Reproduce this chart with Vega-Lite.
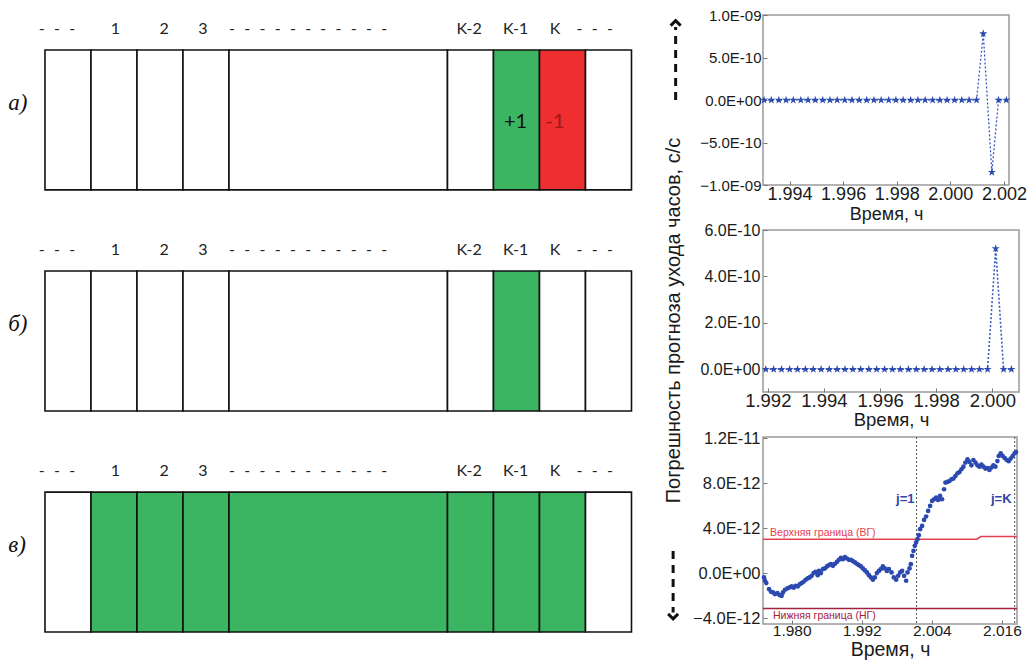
{
  "$schema": "https://vega.github.io/schema/vega-lite/v6.json",
  "padding": {"left": 0, "top": 7, "right": 0, "bottom": 0},
  "background": "white",
  "config": {
    "view": {"stroke": "#9a9a9a", "strokeWidth": 1.5},
    "axis": {"labelFont": "Liberation Sans", "titleFont": "Liberation Sans", "labelColor": "#1a1a1a", "titleColor": "#1a1a1a", "titleFontWeight": "normal", "grid": false, "domain": false, "tickColor": "#777777", "tickSize": -4}
  },
  "datasets": {
    "cells": [
      {"panel": "а)", "cell": "-\u2007-\u2007-", "x0": 0, "x1": 1, "lx": 0.26, "state": "empty", "sign": ""},
      {"panel": "а)", "cell": "1", "x0": 1, "x1": 2, "lx": 1.53, "state": "empty", "sign": ""},
      {"panel": "а)", "cell": "2", "x0": 2, "x1": 3, "lx": 2.59, "state": "empty", "sign": ""},
      {"panel": "а)", "cell": "3", "x0": 3, "x1": 4, "lx": 3.43, "state": "empty", "sign": ""},
      {"panel": "а)", "cell": "-\u2007-\u2007-\u2007-\u2007-\u2007-\u2007-\u2007-\u2007-\u2007-\u2007-", "x0": 4, "x1": 8.75, "lx": 5.72, "state": "empty", "sign": ""},
      {"panel": "а)", "cell": "K-2", "x0": 8.75, "x1": 9.75, "lx": 9.22, "state": "empty", "sign": ""},
      {"panel": "а)", "cell": "K-1", "x0": 9.75, "x1": 10.75, "lx": 10.23, "state": "plus", "sign": "+1"},
      {"panel": "а)", "cell": "K", "x0": 10.75, "x1": 11.75, "lx": 11.09, "state": "minus", "sign": "-1"},
      {"panel": "а)", "cell": "-\u2007-\u2007-", "x0": 11.75, "x1": 12.75, "lx": 11.95, "state": "empty", "sign": ""},
      {"panel": "б)", "cell": "-\u2007-\u2007-", "x0": 0, "x1": 1, "lx": 0.26, "state": "empty", "sign": ""},
      {"panel": "б)", "cell": "1", "x0": 1, "x1": 2, "lx": 1.53, "state": "empty", "sign": ""},
      {"panel": "б)", "cell": "2", "x0": 2, "x1": 3, "lx": 2.59, "state": "empty", "sign": ""},
      {"panel": "б)", "cell": "3", "x0": 3, "x1": 4, "lx": 3.43, "state": "empty", "sign": ""},
      {"panel": "б)", "cell": "-\u2007-\u2007-\u2007-\u2007-\u2007-\u2007-\u2007-\u2007-\u2007-\u2007-", "x0": 4, "x1": 8.75, "lx": 5.72, "state": "empty", "sign": ""},
      {"panel": "б)", "cell": "K-2", "x0": 8.75, "x1": 9.75, "lx": 9.22, "state": "empty", "sign": ""},
      {"panel": "б)", "cell": "K-1", "x0": 9.75, "x1": 10.75, "lx": 10.23, "state": "plus", "sign": ""},
      {"panel": "б)", "cell": "K", "x0": 10.75, "x1": 11.75, "lx": 11.09, "state": "empty", "sign": ""},
      {"panel": "б)", "cell": "-\u2007-\u2007-", "x0": 11.75, "x1": 12.75, "lx": 11.95, "state": "empty", "sign": ""},
      {"panel": "в)", "cell": "-\u2007-\u2007-", "x0": 0, "x1": 1, "lx": 0.26, "state": "empty", "sign": ""},
      {"panel": "в)", "cell": "1", "x0": 1, "x1": 2, "lx": 1.53, "state": "plus", "sign": ""},
      {"panel": "в)", "cell": "2", "x0": 2, "x1": 3, "lx": 2.59, "state": "plus", "sign": ""},
      {"panel": "в)", "cell": "3", "x0": 3, "x1": 4, "lx": 3.43, "state": "plus", "sign": ""},
      {"panel": "в)", "cell": "-\u2007-\u2007-\u2007-\u2007-\u2007-\u2007-\u2007-\u2007-\u2007-\u2007-", "x0": 4, "x1": 8.75, "lx": 5.72, "state": "plus", "sign": ""},
      {"panel": "в)", "cell": "K-2", "x0": 8.75, "x1": 9.75, "lx": 9.22, "state": "plus", "sign": ""},
      {"panel": "в)", "cell": "K-1", "x0": 9.75, "x1": 10.75, "lx": 10.23, "state": "plus", "sign": ""},
      {"panel": "в)", "cell": "K", "x0": 10.75, "x1": 11.75, "lx": 11.09, "state": "plus", "sign": ""},
      {"panel": "в)", "cell": "-\u2007-\u2007-", "x0": 11.75, "x1": 12.75, "lx": 11.95, "state": "empty", "sign": ""}
    ],
    "panels": [{"panel": "а)"}, {"panel": "б)"}, {"panel": "в)"}],
    "c1": [
      {"t": 1.99305, "v": 0}, {"t": 1.99332, "v": 0}, {"t": 1.9936, "v": 0}, {"t": 1.99387, "v": 0}, {"t": 1.99414, "v": 0},
      {"t": 1.99442, "v": 0}, {"t": 1.99469, "v": 0}, {"t": 1.99496, "v": 0}, {"t": 1.99524, "v": 0}, {"t": 1.99551, "v": 0},
      {"t": 1.99578, "v": 0}, {"t": 1.99606, "v": 0}, {"t": 1.99633, "v": 0}, {"t": 1.9966, "v": 0}, {"t": 1.99688, "v": 0},
      {"t": 1.99715, "v": 0}, {"t": 1.99742, "v": 0}, {"t": 1.9977, "v": 0}, {"t": 1.99797, "v": 0}, {"t": 1.99824, "v": 0},
      {"t": 1.99852, "v": 0}, {"t": 1.99879, "v": 0}, {"t": 1.99906, "v": 0}, {"t": 1.99934, "v": 0}, {"t": 1.99961, "v": 0},
      {"t": 1.99988, "v": 0}, {"t": 2.00016, "v": 0}, {"t": 2.00043, "v": 0}, {"t": 2.0007, "v": 0}, {"t": 2.00098, "v": 0},
      {"t": 2.00123, "v": 7.8e-10}, {"t": 2.00155, "v": -8.5e-10}, {"t": 2.0018, "v": 0}, {"t": 2.00209, "v": 0}
    ],
    "c2": [
      {"t": 1.99193, "v": 0}, {"t": 1.99221, "v": 0}, {"t": 1.99249, "v": 0}, {"t": 1.99278, "v": 0}, {"t": 1.99306, "v": 0},
      {"t": 1.99334, "v": 0}, {"t": 1.99362, "v": 0}, {"t": 1.9939, "v": 0}, {"t": 1.99419, "v": 0}, {"t": 1.99447, "v": 0},
      {"t": 1.99475, "v": 0}, {"t": 1.99503, "v": 0}, {"t": 1.99531, "v": 0}, {"t": 1.9956, "v": 0}, {"t": 1.99588, "v": 0},
      {"t": 1.99616, "v": 0}, {"t": 1.99644, "v": 0}, {"t": 1.99672, "v": 0}, {"t": 1.99701, "v": 0}, {"t": 1.99729, "v": 0},
      {"t": 1.99757, "v": 0}, {"t": 1.99785, "v": 0}, {"t": 1.99813, "v": 0}, {"t": 1.99842, "v": 0}, {"t": 1.9987, "v": 0},
      {"t": 1.99898, "v": 0}, {"t": 1.99926, "v": 0}, {"t": 1.99954, "v": 0}, {"t": 1.99983, "v": 0},
      {"t": 2.00012, "v": 5.2e-10}, {"t": 2.0004, "v": 0}, {"t": 2.00068, "v": 0}
    ],
    "c3": [
      {"t": 1.97526, "v": -0.38e-12}, {"t": 1.97543, "v": -0.68e-12}, {"t": 1.97566, "v": -0.89e-12}, {"t": 1.97612, "v": -1.42e-12},
      {"t": 1.97646, "v": -1.66e-12}, {"t": 1.9768, "v": -1.72e-12}, {"t": 1.97714, "v": -1.87e-12}, {"t": 1.97754, "v": -1.78e-12},
      {"t": 1.97795, "v": -1.96e-12}, {"t": 1.97829, "v": -2.02e-12}, {"t": 1.97851, "v": -1.72e-12}, {"t": 1.97885, "v": -1.48e-12},
      {"t": 1.97925, "v": -1.36e-12}, {"t": 1.97966, "v": -1.27e-12}, {"t": 1.98, "v": -1.18e-12}, {"t": 1.98034, "v": -1.3e-12},
      {"t": 1.98068, "v": -1.13e-12}, {"t": 1.98103, "v": -1.18e-12}, {"t": 1.98137, "v": -1.0e-12}, {"t": 1.98171, "v": -0.89e-12},
      {"t": 1.98205, "v": -0.77e-12}, {"t": 1.98239, "v": -0.59e-12}, {"t": 1.98274, "v": -0.47e-12}, {"t": 1.98308, "v": -0.38e-12},
      {"t": 1.98342, "v": -0.24e-12}, {"t": 1.98376, "v": 0.0}, {"t": 1.9841, "v": 0.12e-12}, {"t": 1.98445, "v": -0.18e-12},
      {"t": 1.98467, "v": 0.2e-12}, {"t": 1.98501, "v": 0.0}, {"t": 1.98535, "v": 0.36e-12}, {"t": 1.98569, "v": 0.42e-12},
      {"t": 1.98604, "v": 0.6e-12}, {"t": 1.98638, "v": 0.71e-12}, {"t": 1.98672, "v": 0.8e-12}, {"t": 1.98706, "v": 0.65e-12},
      {"t": 1.98741, "v": 0.83e-12}, {"t": 1.98775, "v": 1.0e-12}, {"t": 1.98809, "v": 1.18e-12}, {"t": 1.98843, "v": 1.36e-12},
      {"t": 1.98877, "v": 1.24e-12}, {"t": 1.98912, "v": 1.42e-12}, {"t": 1.98946, "v": 1.3e-12}, {"t": 1.9898, "v": 1.18e-12},
      {"t": 1.99014, "v": 1.18e-12}, {"t": 1.99048, "v": 1.07e-12}, {"t": 1.99083, "v": 0.95e-12}, {"t": 1.99117, "v": 0.83e-12},
      {"t": 1.99151, "v": 0.71e-12}, {"t": 1.99185, "v": 0.6e-12}, {"t": 1.99219, "v": 0.42e-12}, {"t": 1.99254, "v": 0.24e-12},
      {"t": 1.99288, "v": 0.06e-12}, {"t": 1.99322, "v": -0.18e-12}, {"t": 1.99356, "v": -0.38e-12}, {"t": 1.9939, "v": -0.59e-12},
      {"t": 1.99424, "v": -0.38e-12}, {"t": 1.99459, "v": 0.0}, {"t": 1.99493, "v": 0.2e-12}, {"t": 1.99527, "v": 0.36e-12},
      {"t": 1.99561, "v": 0.6e-12}, {"t": 1.99595, "v": 0.42e-12}, {"t": 1.9963, "v": 0.2e-12}, {"t": 1.99664, "v": 0.36e-12},
      {"t": 1.9971, "v": 0.06e-12}, {"t": 1.99749, "v": -0.38e-12}, {"t": 1.99789, "v": -0.59e-12}, {"t": 1.99823, "v": -0.24e-12},
      {"t": 1.99857, "v": 0.06e-12}, {"t": 1.99891, "v": 0.2e-12}, {"t": 1.99925, "v": -0.24e-12}, {"t": 1.9996, "v": -0.68e-12},
      {"t": 1.99984, "v": 0.06e-12}, {"t": 2.00018, "v": 0.42e-12}, {"t": 2.0004, "v": 0.8e-12}, {"t": 2.00062, "v": 1.54e-12},
      {"t": 2.00086, "v": 1.98e-12}, {"t": 2.00108, "v": 2.43e-12}, {"t": 2.00131, "v": 2.73e-12}, {"t": 2.00155, "v": 3.02e-12},
      {"t": 2.00177, "v": 3.38e-12}, {"t": 2.00199, "v": 3.91e-12}, {"t": 2.00233, "v": 4.2e-12}, {"t": 2.00267, "v": 4.74e-12},
      {"t": 2.00302, "v": 5.04e-12}, {"t": 2.00336, "v": 5.54e-12}, {"t": 2.0037, "v": 5.98e-12}, {"t": 2.00404, "v": 6.43e-12},
      {"t": 2.00438, "v": 6.58e-12}, {"t": 2.00473, "v": 6.73e-12}, {"t": 2.00507, "v": 6.52e-12}, {"t": 2.00541, "v": 6.87e-12},
      {"t": 2.00575, "v": 6.58e-12}, {"t": 2.00609, "v": 7.47e-12}, {"t": 2.00633, "v": 8.06e-12}, {"t": 2.00668, "v": 8.12e-12},
      {"t": 2.00702, "v": 8.2e-12}, {"t": 2.00736, "v": 8.36e-12}, {"t": 2.0077, "v": 8.42e-12}, {"t": 2.00804, "v": 8.65e-12},
      {"t": 2.00839, "v": 8.89e-12}, {"t": 2.00873, "v": 9.0e-12}, {"t": 2.00907, "v": 9.25e-12}, {"t": 2.00941, "v": 9.48e-12},
      {"t": 2.00975, "v": 9.84e-12}, {"t": 2.0101, "v": 10.13e-12}, {"t": 2.01044, "v": 9.9e-12}, {"t": 2.01078, "v": 9.6e-12},
      {"t": 2.01112, "v": 10.07e-12}, {"t": 2.01146, "v": 9.84e-12}, {"t": 2.01181, "v": 9.6e-12}, {"t": 2.01215, "v": 9.48e-12},
      {"t": 2.01249, "v": 9.66e-12}, {"t": 2.01283, "v": 9.48e-12}, {"t": 2.01317, "v": 9.31e-12}, {"t": 2.01352, "v": 9.36e-12},
      {"t": 2.01386, "v": 9.18e-12}, {"t": 2.0142, "v": 9.4e-12}, {"t": 2.01454, "v": 9.6e-12}, {"t": 2.01488, "v": 9.48e-12},
      {"t": 2.01523, "v": 9.98e-12}, {"t": 2.01545, "v": 10.43e-12}, {"t": 2.01579, "v": 10.67e-12}, {"t": 2.01613, "v": 10.43e-12},
      {"t": 2.01647, "v": 10.25e-12}, {"t": 2.01682, "v": 10.07e-12}, {"t": 2.01716, "v": 9.96e-12}, {"t": 2.0175, "v": 10.2e-12},
      {"t": 2.01784, "v": 10.43e-12}, {"t": 2.01818, "v": 10.67e-12}, {"t": 2.01841, "v": 10.78e-12}
    ],
    "bounds": [
      {"t": 1.97509, "v": 3.02e-12, "b": "upper"}, {"t": 2.0117, "v": 3.02e-12, "b": "upper"},
      {"t": 2.0124, "v": 3.26e-12, "b": "upper"}, {"t": 2.01858, "v": 3.26e-12, "b": "upper"},
      {"t": 1.97509, "v": -3.15e-12, "b": "lower"}, {"t": 2.01858, "v": -3.15e-12, "b": "lower"}
    ],
    "boundLabels": [
      {"t": 1.9763, "v": 3.55e-12, "b": "upper", "label": "Верхняя граница (ВГ)"},
      {"t": 1.9768, "v": -3.8e-12, "b": "lower", "label": "Нижняя граница (НГ)"}
    ],
    "jlines": [{"t": 2.00138, "label": "j=1", "lt": 1.99946}, {"t": 2.01818, "label": "j=K", "lt": 2.01588}]
  },
  "hconcat": [
    {
      "width": 640,
      "height": 652,
      "view": {"stroke": null},
      "layer": [
        {
          "data": {"name": "cells"},
          "mark": {"type": "rect", "stroke": "#111111", "strokeWidth": 1.6},
          "encoding": {
            "x": {"field": "x0", "type": "quantitative", "scale": {"domain": [-0.978, 12.935], "nice": false, "zero": false}, "axis": null},
            "x2": {"field": "x1"},
            "y": {"field": "panel", "type": "nominal", "scale": {"domain": ["а)", "б)", "в)"], "paddingInner": 0.3672, "paddingOuter": 0.1582}, "axis": null},
            "fill": {"field": "state", "type": "nominal", "scale": {"domain": ["empty", "plus", "minus"], "range": ["#ffffff", "#3cb563", "#ee2e2f"]}, "legend": null}
          }
        },
        {
          "data": {"name": "cells"},
          "mark": {"type": "text", "font": "Lato", "fontSize": 16, "dy": -91, "color": "#222222"},
          "encoding": {
            "x": {"field": "lx", "type": "quantitative"},
            "y": {"field": "panel", "type": "nominal"},
            "text": {"field": "cell"}
          }
        },
        {
          "data": {"name": "cells"},
          "transform": [{"filter": "datum.sign == '+1'"}],
          "mark": {"type": "text", "font": "Lato", "fontSize": 20, "dy": 2, "color": "#111111"},
          "encoding": {
            "x": {"field": "lx", "type": "quantitative"},
            "y": {"field": "panel", "type": "nominal"},
            "text": {"field": "sign"}
          }
        },
        {
          "data": {"name": "cells"},
          "transform": [{"filter": "datum.sign == '-1'"}],
          "mark": {"type": "text", "font": "Lato", "fontSize": 20, "dy": 2, "color": "#a01818"},
          "encoding": {
            "x": {"field": "lx", "type": "quantitative"},
            "y": {"field": "panel", "type": "nominal"},
            "text": {"field": "sign"}
          }
        },
        {
          "data": {"name": "panels"},
          "mark": {"type": "text", "font": "Liberation Serif", "fontStyle": "italic", "fontSize": 23, "align": "left", "dy": -17, "color": "#111111"},
          "encoding": {
            "x": {"datum": -0.8},
            "y": {"field": "panel", "type": "nominal"},
            "text": {"field": "panel"}
          }
        }
      ]
    },
    {
      "bounds": "flush",
      "spacing": 45,
      "vconcat": [
        {
          "width": 246,
          "height": 170,
          "layer": [
            {
              "data": {"name": "c1"},
              "mark": {"type": "line", "strokeDash": [2, 2], "color": "#3a5bc0", "strokeWidth": 1.3},
              "encoding": {
                "x": {"field": "t", "type": "quantitative", "title": "Время, ч",
                  "scale": {"domain": [1.99301, 2.00219], "nice": false, "zero": false},
                  "axis": {"values": [1.994, 1.996, 1.998, 2.0, 2.002], "format": ".3f", "labelFontSize": 18, "titleFontSize": 18, "labelPadding": 4, "titlePadding": 2}},
                "y": {"field": "v", "type": "quantitative", "title": null,
                  "scale": {"domain": [-1e-9, 1e-9], "nice": false, "zero": false},
                  "axis": {"values": [-1e-9, -5e-10, 0, 5e-10, 1e-9], "labelFontSize": 15, "labelPadding": 6,
                    "labelExpr": "datum.value == 0 ? '0.0E+00' : slice(format(datum.value, '.1e'), 0, indexof(format(datum.value, '.1e'), 'e')) + 'E-' + (length(slice(format(datum.value, '.1e'), indexof(format(datum.value, '.1e'), 'e') + 2)) < 2 ? '0' : '') + slice(format(datum.value, '.1e'), indexof(format(datum.value, '.1e'), 'e') + 2)"}}
              }
            },
            {
              "data": {"name": "c1"},
              "mark": {"type": "point", "shape": "M0,-1L0.224,-0.309L0.951,-0.309L0.363,0.118L0.588,0.809L0,0.382L-0.588,0.809L-0.363,0.118L-0.951,-0.309L-0.224,-0.309Z", "filled": true, "size": 75, "color": "#2c4cb0", "opacity": 1},
              "encoding": {
                "x": {"field": "t", "type": "quantitative"},
                "y": {"field": "v", "type": "quantitative"}
              }
            },
            {
              "data": {"values": [{}]},
              "mark": {"type": "rule", "strokeDash": [8, 6], "strokeWidth": 3, "color": "#111111"},
              "encoding": {"x": {"datum": 1.98975}, "y": {"datum": 0}, "y2": {"datum": 8.6e-10}}
            },
            {
              "data": {"values": [{}]},
              "mark": {"type": "point", "shape": "M-1,0.6L0,-0.4L1,0.6", "filled": false, "strokeWidth": 3, "size": 100, "color": "#111111", "opacity": 1},
              "encoding": {"x": {"datum": 1.98975}, "y": {"datum": 9.1e-10}}
            }
          ]
        },
        {
          "width": 256,
          "height": 162,
          "layer": [
            {
              "data": {"name": "c2"},
              "mark": {"type": "line", "strokeDash": [2, 2], "color": "#3a5bc0", "strokeWidth": 1.6},
              "encoding": {
                "x": {"field": "t", "type": "quantitative", "title": "Время, ч",
                  "scale": {"domain": [1.99183, 2.00095], "nice": false, "zero": false},
                  "axis": {"values": [1.992, 1.994, 1.996, 1.998, 2.0], "format": ".3f", "labelFontSize": 18.5, "titleFontSize": 18.5, "labelPadding": 3, "titlePadding": 1}},
                "y": {"field": "v", "type": "quantitative", "title": "Погрешность прогноза ухода часов, с/с",
                  "scale": {"domain": [-0.98e-10, 6e-10], "nice": false, "zero": false},
                  "axis": {"values": [0, 2e-10, 4e-10, 6e-10], "labelFontSize": 16, "labelPadding": 7,
                    "titleFontSize": 20, "titleX": -90, "titleY": 90, "titleAngle": -90, "titleAlign": "center", "titleBaseline": "middle",
                    "labelExpr": "datum.value == 0 ? '0.0E+00' : slice(format(datum.value, '.1e'), 0, indexof(format(datum.value, '.1e'), 'e')) + 'E-' + (length(slice(format(datum.value, '.1e'), indexof(format(datum.value, '.1e'), 'e') + 2)) < 2 ? '0' : '') + slice(format(datum.value, '.1e'), indexof(format(datum.value, '.1e'), 'e') + 2)"}}
              }
            },
            {
              "data": {"name": "c2"},
              "mark": {"type": "point", "shape": "M0,-1L0.224,-0.309L0.951,-0.309L0.363,0.118L0.588,0.809L0,0.382L-0.588,0.809L-0.363,0.118L-0.951,-0.309L-0.224,-0.309Z", "filled": true, "size": 75, "color": "#2c4cb0", "opacity": 1},
              "encoding": {
                "x": {"field": "t", "type": "quantitative"},
                "y": {"field": "v", "type": "quantitative"}
              }
            }
          ]
        },
        {
          "width": 254,
          "height": 187,
          "layer": [
            {
              "data": {"name": "jlines"},
              "mark": {"type": "rule", "strokeDash": [2, 2], "color": "#555555", "strokeWidth": 1},
              "encoding": {
                "x": {"field": "t", "type": "quantitative", "title": "Время, ч",
                  "scale": {"domain": [1.97509, 2.01858], "nice": false, "zero": false},
                  "axis": {"values": [1.98, 1.992, 2.004, 2.016], "format": ".3f", "labelFontSize": 15.5, "titleFontSize": 19.5, "labelPadding": 3, "titlePadding": 2}}
              }
            },
            {
              "data": {"name": "bounds"},
              "transform": [{"filter": "datum.b == 'upper'"}],
              "mark": {"type": "line", "strokeWidth": 1.6, "color": "#e5404f"},
              "encoding": {
                "x": {"field": "t", "type": "quantitative"},
                "y": {"field": "v", "type": "quantitative", "title": null,
                  "scale": {"domain": [-4.53e-12, 1.212e-11], "nice": false, "zero": false},
                  "axis": {"values": [-4e-12, 0, 4e-12, 8e-12, 1.2e-11], "labelFontSize": 16.5, "labelPadding": 7,
                    "labelExpr": "datum.value == 0 ? '0.0E+00' : slice(format(datum.value, '.1e'), 0, indexof(format(datum.value, '.1e'), 'e')) + 'E-' + (length(slice(format(datum.value, '.1e'), indexof(format(datum.value, '.1e'), 'e') + 2)) < 2 ? '0' : '') + slice(format(datum.value, '.1e'), indexof(format(datum.value, '.1e'), 'e') + 2)"}}
              }
            },
            {
              "data": {"name": "bounds"},
              "transform": [{"filter": "datum.b == 'lower'"}],
              "mark": {"type": "line", "strokeWidth": 1.6, "color": "#a5203c"},
              "encoding": {
                "x": {"field": "t", "type": "quantitative"},
                "y": {"field": "v", "type": "quantitative"}
              }
            },
            {
              "data": {"name": "boundLabels"},
              "transform": [{"filter": "datum.b == 'upper'"}],
              "mark": {"type": "text", "font": "Liberation Sans", "fontSize": 10.5, "align": "left", "baseline": "middle", "color": "#e5404f"},
              "encoding": {
                "x": {"field": "t", "type": "quantitative"},
                "y": {"field": "v", "type": "quantitative"},
                "text": {"field": "label"}
              }
            },
            {
              "data": {"name": "boundLabels"},
              "transform": [{"filter": "datum.b == 'lower'"}],
              "mark": {"type": "text", "font": "Liberation Sans", "fontSize": 10.5, "align": "left", "baseline": "middle", "color": "#a5203c"},
              "encoding": {
                "x": {"field": "t", "type": "quantitative"},
                "y": {"field": "v", "type": "quantitative"},
                "text": {"field": "label"}
              }
            },
            {
              "data": {"name": "c3"},
              "mark": {"type": "circle", "size": 22, "color": "#2c49b0", "opacity": 1},
              "encoding": {
                "x": {"field": "t", "type": "quantitative"},
                "y": {"field": "v", "type": "quantitative"}
              }
            },
            {
              "data": {"name": "jlines"},
              "mark": {"type": "text", "font": "Liberation Sans", "fontWeight": "bold", "fontSize": 13, "color": "#2f45a8"},
              "encoding": {
                "x": {"field": "lt", "type": "quantitative"},
                "y": {"datum": 6.6e-12},
                "text": {"field": "label"}
              }
            },
            {
              "data": {"values": [{}]},
              "mark": {"type": "rule", "strokeDash": [8, 6], "strokeWidth": 3, "color": "#111111"},
              "encoding": {"x": {"datum": 1.9597}, "y": {"datum": 1.96e-12}, "y2": {"datum": -3.5e-12}}
            },
            {
              "data": {"values": [{}]},
              "mark": {"type": "point", "shape": "M-1,-0.6L0,0.4L1,-0.6", "filled": false, "strokeWidth": 3, "size": 100, "color": "#111111", "opacity": 1},
              "encoding": {"x": {"datum": 1.9597}, "y": {"datum": -3.9e-12}}
            }
          ]
        }
      ]
    }
  ],
  "bounds": "flush",
  "spacing": 123
}
